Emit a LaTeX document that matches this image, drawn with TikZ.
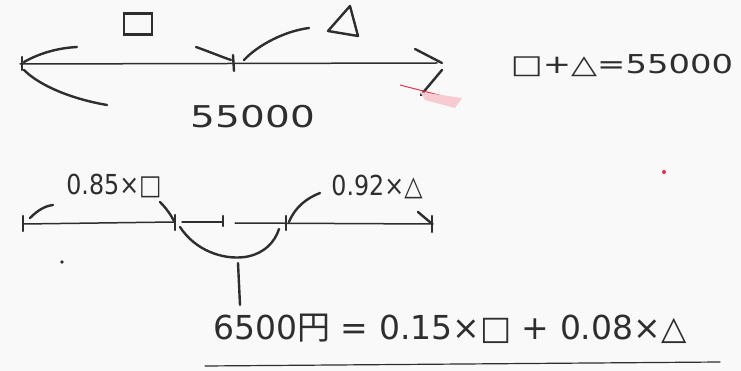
\documentclass[tikz,border=0pt]{standalone}
\usepackage{fontspec}
\setmainfont{DejaVu Sans}
\newfontfamily\jp{Noto Sans CJK JP}
\definecolor{ink}{HTML}{2E2E2E}
\definecolor{paper}{HTML}{F9F9F9}
\definecolor{redink}{HTML}{E0304A}
\begin{document}
\begin{tikzpicture}[x=1pt,y=-1pt,
  pen/.style={draw=ink,line width=2.4pt,line cap=round},
  thin/.style={draw=ink,line width=1.5pt,line cap=round},
  lbl/.style={text=ink,inner sep=0pt,anchor=center}]
\fill[paper] (0,0) rectangle (741,371);
\useasboundingbox (0,0) rectangle (741,371);

% ---------- top segment ----------
\coordinate (tL) at (20,64);
\coordinate (tM) at (233,63);
\coordinate (tR) at (437,63);
\draw[thin] (tL) -- (tR);
\draw[pen] (22,57) -- (22,70);
\draw[pen] (233,55) -- (234,71);
\draw[pen] (24,62) .. controls (40,53) and (58,48) .. (77,47);
\draw[pen] (24,70) .. controls (40,86) and (72,99) .. (107,105);
\draw[pen] (196,47) .. controls (210,52) and (222,57) .. (231,60);
\draw[pen] (244,60) .. controls (258,45) and (285,31) .. (309,28);
\draw[pen] (415,49) -- (442,63);
\draw[pen] (442,70) -- (421,95);
\node[draw=ink,line width=2.2pt,minimum width=28pt,minimum height=21pt,inner sep=0pt] (sq) at (138,24) {};
\draw[pen,line join=round] (328,31) -- (350,6) -- (358,36) -- cycle;
\node[lbl,font=\fontsize{30}{30}\selectfont] (tot) at (253,117) {\scalebox{1.3}[1]{55000}};
\draw[redink,line width=1pt] (400,85) -- (458,100);
\fill[redink!25] (420,92) -- (462,98) -- (455,108) -- (425,100) -- cycle;

% right equation
\node[lbl,font=\fontsize{26}{26}\selectfont] (sum) at (622,65) {\scalebox{1.3}[1]{□+△=55000}};

% ---------- bottom segment ----------
\draw[thin] (23,224) -- (174,222);
\draw[thin] (182,222) -- (222,222);
\draw[thin] (235,223) -- (433,224);
\draw[pen] (23,216) -- (23,231);
\draw[pen] (175,215) -- (175,230);
\draw[pen] (223,216) -- (223,226);
\draw[pen] (286,216) -- (286,230);
\draw[pen] (432,216) -- (432,232);
\draw[pen] (418,212) -- (431,223);
\draw[pen] (30,218) .. controls (38,210) and (45,206) .. (53,205);
\draw[pen] (160,202) .. controls (166,208) and (171,215) .. (174,221);
\draw[pen] (289,222) .. controls (295,207) and (307,198) .. (320,193);
\draw[pen] (180,227) .. controls (195,250) and (222,260) .. (245,257) .. controls (264,254) and (275,242) .. (279,229);
\draw[pen] (238,263) -- (240,305);
\node[lbl,font=\fontsize{25}{25}\selectfont] (a) at (114,186) {\scalebox{0.95}[1.1]{0.85×□}};
\node[lbl,font=\fontsize{25}{25}\selectfont] (b) at (377,187) {\scalebox{0.95}[1.1]{0.92×△}};
\fill[ink] (62,262) circle (1.8pt);
\fill[redink] (664,172) circle (2pt);

% bottom equation
\node[lbl,font=\fontsize{33}{33}\selectfont] (eq) at (450,329) {6500{\jp 円} = 0.15×□ + 0.08×△};
\draw[thin,line width=1.2pt] (205,366) -- (720,362);
\end{tikzpicture}
\end{document}
